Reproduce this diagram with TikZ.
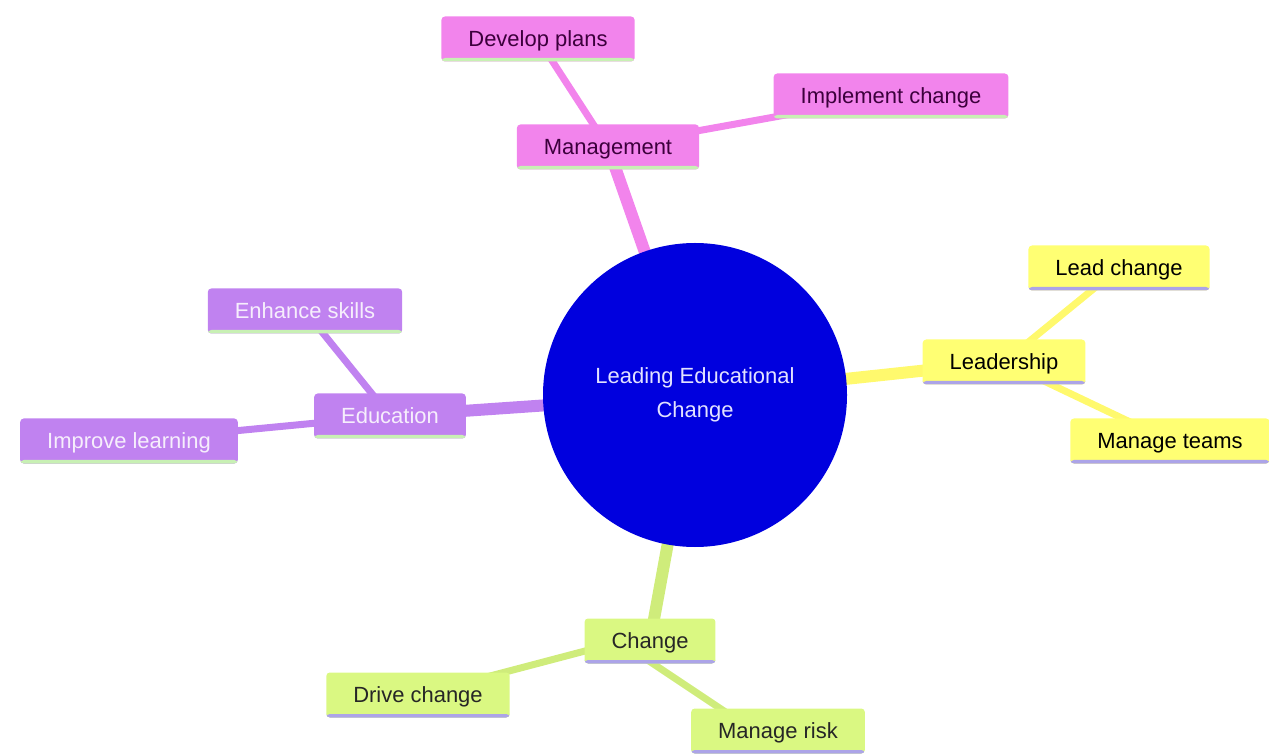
\documentclass[tikz,border=0pt]{standalone}
\usepackage{fontspec}
\setmainfont{Liberation Sans}
\usetikzlibrary{positioning,backgrounds}

\definecolor{hubblue}{RGB}{0,0,222}
\definecolor{hubtext}{RGB}{226,226,255}
\definecolor{mgmtpink}{RGB}{242,132,236}
\definecolor{leadyellow}{RGB}{255,255,115}
\definecolor{edupurple}{RGB}{192,130,240}
\definecolor{chggreen}{RGB}{218,248,130}
\definecolor{undergreen}{RGB}{200,240,180}
\definecolor{underlav}{RGB}{172,164,232}
\definecolor{pinktext}{RGB}{60,0,60}
\definecolor{edutext}{RGB}{246,238,252}

\begin{document}
\begin{tikzpicture}[on grid, node distance=2cm,
    every node/.style={font=\fontsize{12.5}{19}\selectfont},
    hub node/.style={circle, fill=hubblue, text=hubtext, minimum size=6.08cm, align=center},
    topic/.style={rectangle, rounded corners=2pt, minimum height=0.9cm, inner xsep=0.54cm,
      text height=1.9ex, text depth=0.35ex,
      path picture={\fill[#1] ([yshift=0.07cm]path picture bounding box.south west)
        rectangle (path picture bounding box.south east);}},
    pink node/.style={topic=undergreen, fill=mgmtpink, text=pinktext},
    yellow node/.style={topic=underlav, fill=leadyellow, text=black},
    purple node/.style={topic=undergreen, fill=edupurple, text=edutext},
    green node/.style={topic=underlav, fill=chggreen, text=black!85},
    trunk/.style={line width=0.24cm},
    twig/.style={line width=0.14cm}]

  \useasboundingbox (0,0) rectangle (25.38,-15.08);

  \node[hub node] (hub) at (13.9,-7.9) {Leading Educational\\Change};

  \node[pink node] (mgmt) [above left=4.96cm and 1.74cm of hub] {Management};
  \node[pink node] (plans) [above left=2.16cm and 1.40cm of mgmt] {Develop plans};
  \node[pink node] (impl) [above right=1.02cm and 5.66cm of mgmt] {Implement change};

  \node[yellow node] (lead) [above right=0.66cm and 6.18cm of hub] {Leadership};
  \node[yellow node] (leadchg) [above right=1.88cm and 2.30cm of lead] {Lead change};
  \node[yellow node] (teams) [below right=1.58cm and 3.32cm of lead] {Manage teams};

  \node[purple node] (edu) [below left=0.42cm and 6.10cm of hub] {Education};
  \node[purple node] (skills) [above left=2.10cm and 1.70cm of edu] {Enhance skills};
  \node[purple node] (learn) [below left=0.50cm and 5.22cm of edu] {Improve learning};

  \node[green node] (chg) [below left=4.92cm and 0.90cm of hub] {Change};
  \node[green node] (drive) [below left=1.08cm and 4.64cm of chg] {Drive change};
  \node[green node] (risk) [below right=1.80cm and 2.56cm of chg] {Manage risk};

  \begin{scope}[on background layer]
    \draw[trunk, mgmtpink] (hub.center) -- (mgmt.center);
    \draw[twig, mgmtpink] (mgmt.center) -- (plans.center);
    \draw[twig, mgmtpink] (mgmt.center) -- (impl.center);

    \draw[trunk, leadyellow!95!orange] (hub.center) -- (lead.center);
    \draw[twig, leadyellow!95!orange] (lead.center) -- (leadchg.center);
    \draw[twig, leadyellow!95!orange] (lead.center) -- (teams.center);

    \draw[trunk, edupurple] (hub.center) -- (edu.center);
    \draw[twig, edupurple] (edu.center) -- (skills.center);
    \draw[twig, edupurple] (edu.center) -- (learn.center);

    \draw[trunk, chggreen!95!black] (hub.center) -- (chg.center);
    \draw[twig, chggreen!95!black] ([xshift=-0.54cm]chg.center) -- (drive.center);
    \draw[twig, chggreen!95!black] ([xshift=-0.62cm]chg.center) -- ([xshift=-0.48cm]risk.center);
  \end{scope}

\end{tikzpicture}
\end{document}
